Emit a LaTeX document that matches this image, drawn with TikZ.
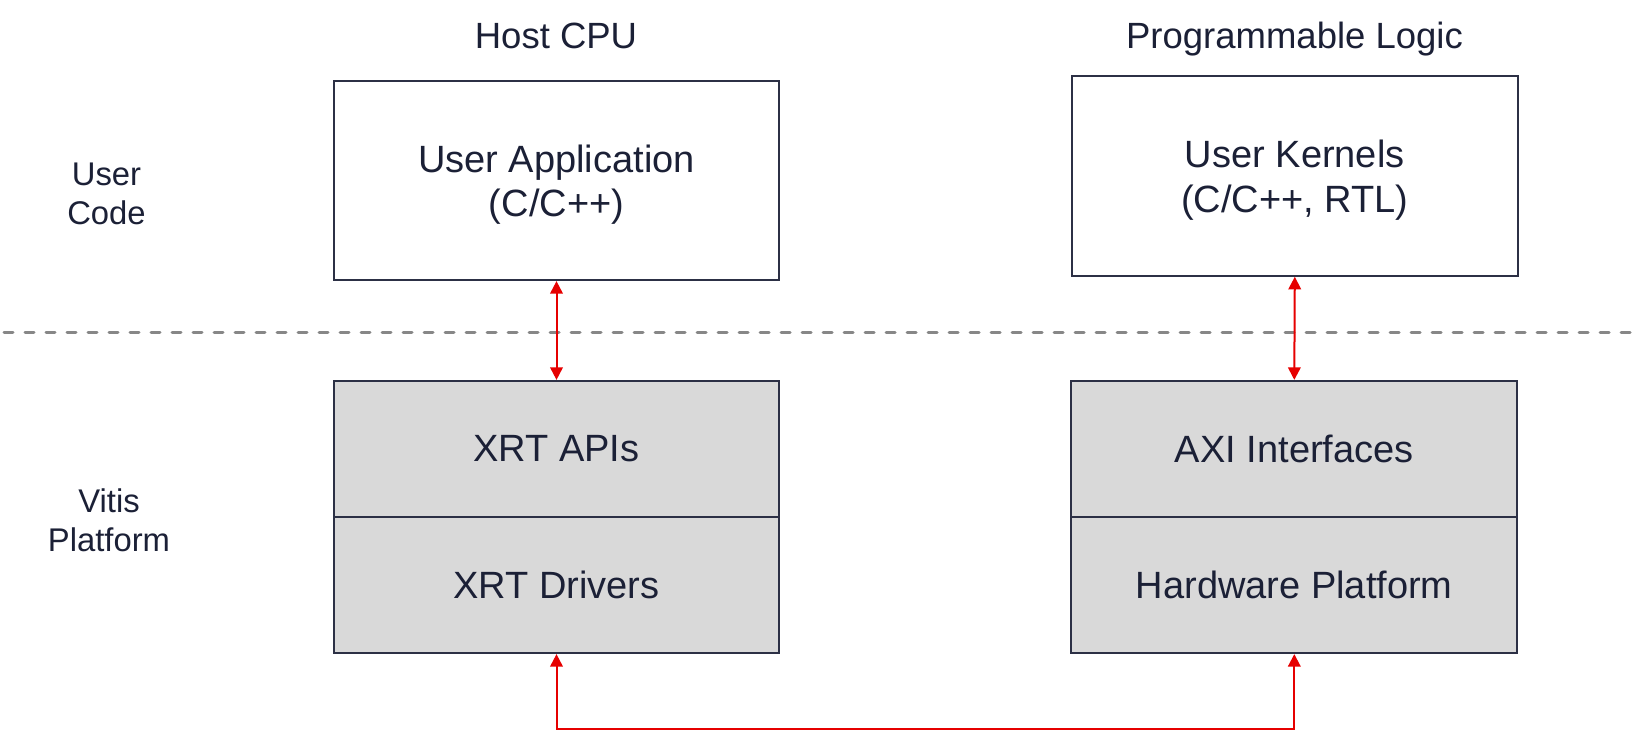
\documentclass[tikz,border=0pt]{standalone}
\usepackage{fontspec}
\setmainfont{Liberation Sans}
\usetikzlibrary{arrows.meta}
\definecolor{txt}{HTML}{1B2036}
\definecolor{edge}{HTML}{2C3045}
\definecolor{boxgray}{HTML}{D9D9D9}
\definecolor{conred}{HTML}{E60000}
\definecolor{dashgray}{HTML}{878787}
\newcommand{\topstrut}{\rule{0pt}{36pt}}
\tikzset{
  boxtext/.style={font=\fontsize{38}{44.5}\selectfont, text=txt, align=center},
  whitebox/.style={boxtext, draw=edge, line width=2.2pt, fill=white, inner sep=0pt, minimum width=445pt},
  graybox/.style={boxtext, draw=edge, line width=2.2pt, fill=boxgray, inner sep=0pt, minimum width=445pt, minimum height=136pt},
  header/.style={font=\fontsize{36.5}{42}\selectfont, text=txt, anchor=base},
  sidelabel/.style={font=\fontsize{32.8}{39.3}\selectfont, text=txt, align=center},
  conn/.style={draw=conred, line width=2pt, {Triangle[width=12.5pt,length=12.5pt]}-{Triangle[width=12.5pt,length=12.5pt]}},
  sepline/.style={draw=dashgray, line width=3pt, line cap=round, dash pattern=on 9pt off 12pt}
}
\begin{document}
\begin{tikzpicture}[x=1pt,y=-1pt]
\useasboundingbox (0,0) rectangle (1641,730);
% headers
\node[header] (host) at (556,48.5) {Host CPU};
\node[header] (pl) at (1294.5,48.5) {Programmable Logic};
% side labels
\node[sidelabel] (ucode) at (106.5,194) {User\\Code};
\node[sidelabel] (vitis) at (109,520) {Vitis\\Platform};
% separator
\coordinate (sepL) at (4,332);
\coordinate (sepR) at (1632,332);
\draw[sepline] (sepL) -- (sepR);
% top boxes
\node[whitebox, minimum height=199pt] (uapp) at (556.5,180.5) {\topstrut User Application\\(C/C++)};
\node[whitebox, minimum width=446pt, minimum height=200pt] (ukern) at (1294.8,175.7) {\topstrut User Kernels\\(C/C++, RTL)};
% bottom boxes
\node[graybox] (xapi) at (556.5,449) {XRT APIs};
\node[graybox] (xdrv) at (556.5,585) {XRT Drivers};
\node[graybox, minimum width=446pt] (axi) at (1294.3,449) {AXI Interfaces};
\node[graybox, minimum width=446pt] (hwp) at (1294.3,585) {Hardware Platform};
% connectors
\draw[conn] (uapp.south) -- (xapi.north);
\draw[conn] (ukern.south) -- (axi.north);
\coordinate (bottom) at (0,728.5);
\draw[conn] (xdrv.south) -- (xdrv.south |- bottom) -| (hwp.south);
\end{tikzpicture}
\end{document}
